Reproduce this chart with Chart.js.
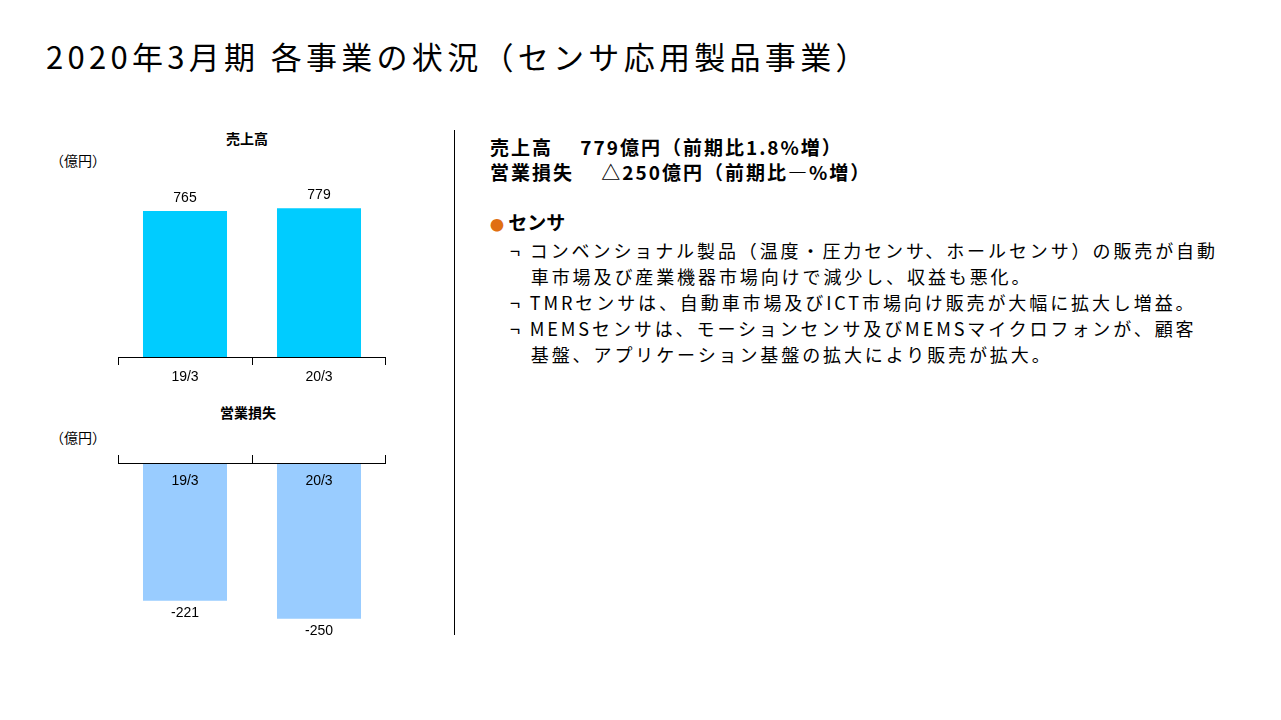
<!DOCTYPE html><html><head><meta charset="utf-8">
<script src="https://cdn.jsdelivr.net/npm/chart.js@4"></script>
<style>
body{margin:0;width:1281px;height:720px;background:#fff;position:relative;overflow:hidden;font-family:"Noto Sans CJK JP","Noto Sans",sans-serif;color:#000}
.a{position:absolute;white-space:nowrap;line-height:1}
canvas{position:absolute}
.r{font-size:18px;line-height:26px;letter-spacing:2.9px}
</style></head><body>
<div class="a" style="left:46px;top:40px;font-size:31px;letter-spacing:4.3px">2020年3月期 各事業の状況（センサ応用製品事業）</div>
<div class="a" style="left:226px;top:131px;font-size:14px;font-weight:bold">売上高</div>
<div class="a" style="left:50px;top:153px;font-size:14px">（億円）</div>
<div class="a" style="left:220px;top:405px;font-size:14px;font-weight:bold">営業損失</div>
<div class="a" style="left:50px;top:430px;font-size:14px">（億円）</div>
<div class="a" style="left:454px;top:130px;width:1px;height:505px;background:#000"></div>
<div class="a" style="left:490px;top:137px;font-size:19px;font-weight:bold;letter-spacing:2px">売上高　 779億円（前期比1.8%増）</div>
<div class="a" style="left:490px;top:162px;font-size:19px;font-weight:bold;letter-spacing:2px">営業損失　 △250億円（前期比―%増）</div>
<div class="a" style="left:490px;top:212px;font-size:19px;font-weight:bold"><span style="color:#E07010;font-size:14px">●</span> センサ</div>
<div class="a r" style="left:510px;top:237px">¬ コンベンショナル製品（温度・圧力センサ、ホールセンサ）の販売が自動<br>&nbsp;&nbsp;&nbsp;車市場及び産業機器市場向けで減少し、収益も悪化。<br>¬ TMRセンサは、自動車市場及びICT市場向け販売が大幅に拡大し増益。<br>¬ MEMSセンサは、モーションセンサ及びMEMSマイクロフォンが、顧客<br>&nbsp;&nbsp;&nbsp;基盤、アプリケーション基盤の拡大により販売が拡大。</div>
<canvas id="c1" style="left:118px;top:140px" width="268" height="247"></canvas>
<canvas id="c2" style="left:118px;top:453px" width="268" height="217"></canvas>
<script>
const categories=["19/3","20/3"];
const sales=[765,779];
const loss=[-221,-250];
const F='"Liberation Sans",Arial,sans-serif';
function mk(id,data,color,min,max,pad,neg){
 const plug={id:'p',afterDatasetsDraw(ch){
  const c=ch.ctx,x=ch.scales.x,y=ch.scales.y,a=ch.chartArea;
  const by=y.getPixelForValue(0);
  c.save();c.strokeStyle='#000';c.lineWidth=1;c.beginPath();
  c.moveTo(a.left,by+0.5);c.lineTo(a.right,by+0.5);
  const bnd=[a.left,(x.getPixelForValue(0)+x.getPixelForValue(1))/2,a.right];
  bnd.forEach((b,i)=>{const xx=Math.min(Math.max(Math.round(b)+0.5,0.5),a.right-0.5);c.moveTo(xx,by);c.lineTo(xx,neg?by-8:by+8);});
  c.stroke();
  c.fillStyle='#000';c.font='14px '+F;c.textAlign='center';c.textBaseline='middle';
  data.forEach((v,i)=>{const px=x.getPixelForValue(i),py=y.getPixelForValue(v);
   if(neg){c.fillText(categories[i],px,by+18);c.fillText(String(v),px,py+12);}
   else{c.fillText(String(v),px,py-13);c.fillText(categories[i],px,by+20);}
  });c.restore();}};
 new Chart(document.getElementById(id),{type:'bar',data:{labels:categories,datasets:[{data,backgroundColor:color,barPercentage:0.627,categoryPercentage:1}]},
 options:{responsive:false,animation:false,events:[],layout:{padding:pad},plugins:{legend:{display:false},tooltip:{enabled:false}},
 scales:{x:{display:false},y:{display:false,min,max}}},plugins:[plug]});
}
mk('c1',sales,'#00CCFF',0,1000,{top:26,bottom:30,left:0,right:0},false);
mk('c2',loss,'#99CCFF',-300,0,{top:10,bottom:20,left:0,right:0},true);
</script></body></html>
